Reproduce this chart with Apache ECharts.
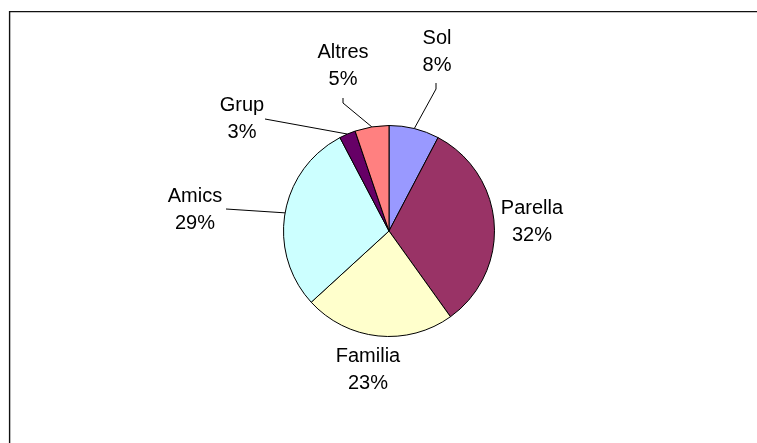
<!DOCTYPE html>
<html>
<head>
<meta charset="utf-8">
<script src="https://cdn.jsdelivr.net/npm/echarts@6/dist/echarts.min.js"></script>
<style>
html,body{margin:0;padding:0;background:#fff;}
#chart{width:757px;height:443px;}
</style>
</head>
<body>
<div id="chart"></div>
<script>
// Data (clockwise from 12 o'clock)
var categories = ['Sol', 'Parella', 'Familia', 'Amics', 'Grup', 'Altres'];
var values = [7.7, 32.4, 23.1, 29.1, 2.5, 5.2];
var colors = ['#9999FF', '#993366', '#FFFFCC', '#CCFFFF', '#660066', '#FF8080'];

// Label placement (text-block centre) and leader-line bends, per category
var labelPos = [[437, 52], [532, 222], [368, 370], [195, 210], [242, 119], [343, 66]];
var leaderBend = [
  [[436, 89], [436, 83]],
  null,
  null,
  [[226, 209]],
  [[265, 119]],
  [[343, 103], [343, 98]]
];

var chart = echarts.init(document.getElementById('chart'));
var data = categories.map(function (c, i) {
  return {
    name: c,
    value: values[i],
    itemStyle: { color: colors[i] },
    labelLine: { show: leaderBend[i] !== null }
  };
});

chart.setOption({
  backgroundColor: '#ffffff',
  animation: false,
  graphic: [{
    type: 'rect',
    shape: { x: 9.6, y: 11.6, width: 800, height: 500 },
    style: { fill: 'none', stroke: '#111', lineWidth: 1.4 },
    silent: true
  }],
  series: [{
    type: 'pie',
    center: [389, 231],
    radius: 105.5,
    startAngle: 90,
    clockwise: true,
    data: data,
    itemStyle: { borderColor: '#000', borderWidth: 1 },
    label: {
      show: true,
      position: 'outside',
      formatter: function (p) { return p.name + '\n' + Math.round(p.percent) + '%'; },
      fontFamily: 'Liberation Sans, Arial, sans-serif',
      fontSize: 20,
      lineHeight: 27,
      color: '#000',
      align: 'center'
    },
    labelLine: {
      show: true,
      length: 10,
      length2: 10,
      lineStyle: { color: '#000', width: 1 }
    },
    labelLayout: function (params) {
      var i = params.dataIndex;
      var res = {
        x: labelPos[i][0],
        y: labelPos[i][1],
        align: 'center',
        verticalAlign: 'middle'
      };
      if (leaderBend[i] && params.labelLinePoints) {
        var pts = [params.labelLinePoints[0]].concat(leaderBend[i]);
        while (pts.length < 3) pts.push(pts[pts.length - 1]);
        res.labelLinePoints = pts;
      }
      return res;
    }
  }]
});
</script>
</body>
</html>
